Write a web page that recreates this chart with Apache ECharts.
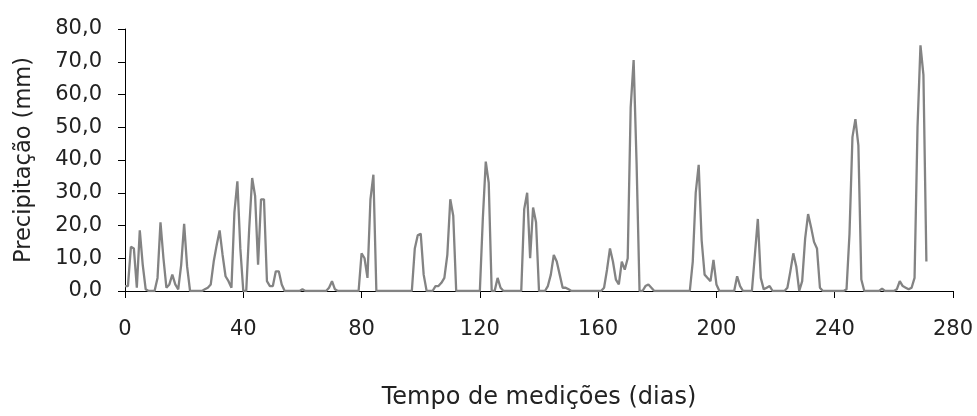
<!DOCTYPE html>
<html>
<head>
<meta charset="utf-8">
<script src="https://cdn.jsdelivr.net/npm/echarts@6/dist/echarts.min.js"></script>
<style>
  html, body { margin: 0; padding: 0; background: #fff; }
  #chart { width: 977px; height: 416px; }
</style>
</head>
<body>
<div id="chart"></div>
<script>
// precipitação diária (mm), um valor por dia a partir do dia 0
const precip = [
  1.5, 1.5, 13.5, 13, 1, 18.5, 8, 0.5, 0, 0,        // 0
  0, 4, 21, 10, 1, 2, 5, 2, 0.5, 8,                 // 10
  20.5, 7.5, 0, 0, 0, 0, 0, 0.5, 1, 2,              // 20
  9, 14, 18.5, 11, 4.5, 3, 1, 24, 33.5, 13,         // 30
  0, 0, 19, 34.5, 29, 8, 28, 28, 3, 1.5,            // 40
  1.5, 6, 6, 2, 0, 0, 0, 0, 0, 0,                   // 50
  0.5, 0, 0, 0, 0, 0, 0, 0, 0, 1,                   // 60
  3, 0.5, 0, 0, 0, 0, 0, 0, 0, 0,                   // 70
  11.5, 10, 4, 28, 35.5, 0, 0, 0, 0, 0,             // 80
  0, 0, 0, 0, 0, 0, 0, 0, 13, 17,                   // 90
  17.5, 5, 0, 0, 0, 1.5, 1.5, 2.5, 4, 11,           // 100
  28, 23, 0, 0, 0, 0, 0, 0, 0, 0,                   // 110
  0, 22, 39.5, 33, 0, 0, 4, 1, 0, 0,                // 120
  0, 0, 0, 0, 0, 25, 30, 10, 25.5, 21,              // 130
  0, 0, 0, 1.5, 5, 11, 9, 5, 1, 1,                  // 140
  0.5, 0, 0, 0, 0, 0, 0, 0, 0, 0,                   // 150
  0, 0, 1, 6.5, 13, 9, 3.5, 2, 9, 6.5,              // 160
  10, 56, 70.5, 39, 0, 0, 1.5, 2, 1, 0,             // 170
  0, 0, 0, 0, 0, 0, 0, 0, 0, 0,                     // 180
  0, 0, 9, 30, 38.5, 15.5, 5, 4, 3, 9.5,            // 190
  2, 0, 0, 0, 0, 0, 0, 4.5, 1.5, 0,                 // 200
  0, 0, 0, 11, 22, 4, 0.5, 1, 1.5, 0,               // 210
  0, 0, 0, 0, 1, 6, 11.5, 7.5, 0, 3,                // 220
  16, 23.5, 19.5, 15, 13, 1, 0, 0, 0, 0,            // 230
  0, 0, 0, 0, 0.5, 17.5, 47, 52.5, 44.5, 3.5,       // 240
  0, 0, 0, 0, 0, 0, 0.7, 0, 0, 0,                   // 250
  0, 0.5, 3, 1.5, 1, 0.5, 1, 4, 50, 75,             // 260
  66, 9                                             // 270
]

const xTicks = { min: 0, max: 280, interval: 40 }
const yTicks = { min: 0, max: 80, interval: 10 }

// fonte larga, parecida com a do original
const font = '"DejaVu Sans", "Liberation Sans", Arial, sans-serif'

const chartInstance = echarts.init(document.getElementById('chart'))

const initOption = {
  animation: false,
  grid: {
    left: 125,
    right: 24,
    top: 29,
    bottom: 125,
    outerBoundsMode: 'none' // não deixar o v6 encolher a área do gráfico
  },
  xAxis: {
    type: 'value',
    min: xTicks.min,
    max: xTicks.max,
    interval: xTicks.interval,
    name: 'Tempo de medições (dias)',
    nameLocation: 'middle',
    nameGap: 95,
    nameTextStyle: { fontFamily: font, fontSize: 24, color: '#222' },
    axisLine: { lineStyle: { color: '#000', width: 1 } },
    axisTick: { show: true, length: 7, lineStyle: { color: '#000' } },
    axisLabel: { fontFamily: font, fontSize: 21, color: '#222', margin: 28 },
    splitLine: { show: false }
  },
  yAxis: {
    type: 'value',
    min: yTicks.min,
    max: yTicks.max,
    interval: yTicks.interval,
    name: 'Precipitação (mm)',
    nameLocation: 'middle',
    nameGap: 89,
    nameTextStyle: { fontFamily: font, fontSize: 22.5, color: '#222' },
    axisLine: { show: true, lineStyle: { color: '#000', width: 1 } },
    axisTick: { show: true, length: 7, lineStyle: { color: '#000' } },
    axisLabel: {
      fontFamily: font,
      fontSize: 21,
      color: '#222',
      margin: 23,
      // vírgula como separador decimal
      formatter: (v) => v.toFixed(1).replace('.', ',')
    },
    splitLine: { show: false }
  },
  series: [
    {
      type: 'line',
      showSymbol: false,
      data: precip.map((v, i) => [i, v]),
      lineStyle: { color: '#838383', width: 2.3 },
      z: 1
    }
  ]
}
chartInstance.setOption(initOption)
</script>
</body>
</html>
